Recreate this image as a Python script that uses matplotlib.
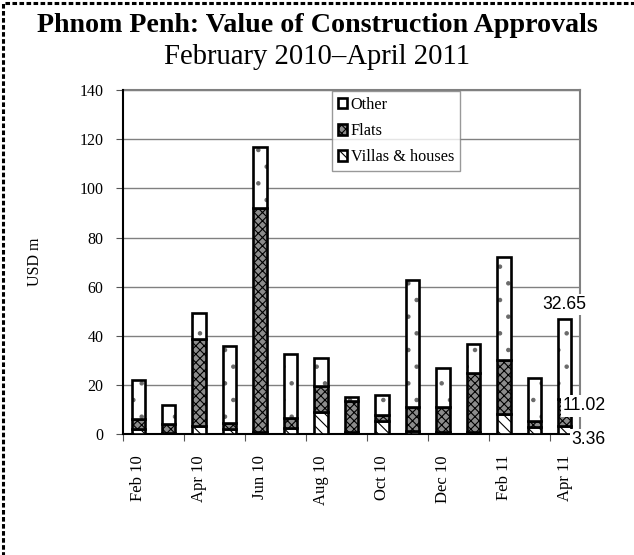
import matplotlib
matplotlib.use("Agg")
import matplotlib.pyplot as plt
from matplotlib.patches import Rectangle
import numpy as np

months = ["Feb 10", "Mar 10", "Apr 10", "May 10", "Jun 10", "Jul 10", "Aug 10",
          "Sep 10", "Oct 10", "Nov 10", "Dec 10", "Jan 11", "Feb 11", "Mar 11", "Apr 11"]
villas = [2.0, 0.6, 3.5, 2.0, 0.8, 2.5, 9.2, 1.0, 5.5, 1.2, 1.0, 1.0, 8.2, 2.8, 3.36]
flats = [4.1, 3.5, 35.3, 2.5, 91.2, 4.2, 10.4, 12.6, 2.4, 10.1, 10.3, 23.8, 22.0, 2.8, 11.02]
other = [15.9, 7.8, 10.5, 31.5, 25.0, 25.8, 11.3, 1.4, 8.1, 51.5, 15.8, 11.8, 42.0, 17.4, 32.65]
yticks = [0, 20, 40, 60, 80, 100, 120, 140]

serif = "Liberation Serif"
sans = "Liberation Sans"
plt.rcParams["hatch.linewidth"] = 0.8

fig = plt.figure(figsize=(6.34, 5.55), dpi=100)
ax = fig.add_axes([123/634, 1-434.3/555, 457/634, 344.3/555])

x = np.arange(len(months))
w = 0.44
v = np.array(villas); f = np.array(flats); o = np.array(other)
kw = dict(width=w, edgecolor="black", linewidth=1.9, zorder=3)
b1 = ax.bar(x, v, facecolor="white", hatch="\\\\\\", label="Villas & houses", **kw)
b2 = ax.bar(x, f, bottom=v, facecolor="#8c8c8c", hatch="xxxx", label="Flats", **kw)
# Other: light dotted fill, then black outline
ax.bar(x, o, bottom=v+f, width=w, facecolor="white", hatch=".", edgecolor="#6a6a6a",
       linewidth=0, zorder=3)
b3 = ax.bar(x, o, bottom=v+f, width=w, fill=False, edgecolor="black", linewidth=1.9,
            zorder=3.5, label="Other")

ax.set_xlim(-0.5, len(months)-0.5)
ax.set_ylim(0, 140)
ax.set_yticks(yticks)
ax.set_yticklabels([str(t) for t in yticks], fontfamily=serif, fontsize=11.5)
ax.tick_params(axis="y", length=5, width=0.8, color="#555555", pad=9)
ax.grid(axis="y", color="#808080", linewidth=1.0, zorder=0)

ax.set_xticks(x[::2])
ax.set_xticklabels(months[::2], rotation=90, fontfamily=serif, fontsize=12)
ax.set_xticks(np.arange(-0.5, len(months)-0.5, 2), minor=True)
ax.tick_params(axis="x", which="major", length=0, pad=15)
ax.tick_params(axis="x", which="minor", length=5, width=0.8, color="#555555")

for s in ["top", "right"]:
    ax.spines[s].set_color("#808080")
    ax.spines[s].set_linewidth(1.5)
for s in ["left", "bottom"]:
    ax.spines[s].set_color("black")
    ax.spines[s].set_linewidth(1.5)
ax.spines["left"].set_zorder(5)

ax.set_ylabel("USD m", fontfamily=serif, fontsize=11.5, labelpad=26)

leg = ax.legend(handles=[b3, b2, b1], loc="upper left", bbox_to_anchor=(0.457, 0.996),
                prop={"family": serif, "size": 11.7}, frameon=True, fancybox=False,
                edgecolor="#808080", handlelength=0.6, handleheight=0.6,
                handletextpad=0.2, labelspacing=0.62, borderpad=0.35, borderaxespad=0)
leg.get_frame().set_linewidth(1.0)
leg.set_zorder(10)
leg.legend_handles[0].set_facecolor("white")
leg.legend_handles[0].set_fill(True)

# data labels for the last bar
last = len(months) - 1
bbox = dict(facecolor="white", edgecolor="none", pad=1.5)
ax.annotate(f"{other[last]:.2f}", (x[last], villas[last]+flats[last]+other[last]),
            xytext=(0, 4), textcoords="offset points", ha="center", va="bottom",
            fontfamily=sans, fontsize=12.7, bbox=bbox, zorder=12, annotation_clip=False)
ax.annotate(f"{flats[last]:.2f}", (x[last], villas[last]+flats[last]/2),
            xytext=(-1.5, 4.7), textcoords="offset points", ha="left", va="center",
            fontfamily=sans, fontsize=12.7, bbox=bbox, zorder=12, annotation_clip=False)
ax.annotate(f"{villas[last]:.2f}", (x[last], villas[last]/2),
            xytext=(5, -6.5), textcoords="offset points", ha="left", va="center",
            fontfamily=sans, fontsize=12.7, bbox=bbox, zorder=12, annotation_clip=False)

fig.text(0.5, 1-26/555, "Phnom Penh: Value of Construction Approvals", ha="center", va="center",
         fontfamily=serif, fontsize=20.2, fontweight="bold")
fig.text(0.5, 1-57/555, "February 2010\u2013April 2011", ha="center", va="center",
         fontfamily=serif, fontsize=20.6)

fig.patches.append(Rectangle((3/634, -0.1), 1.2, 1-3/555+0.1, transform=fig.transFigure,
                             fill=False, edgecolor="black", linewidth=2.2,
                             linestyle=(0, (1.5, 0.8)), figure=fig))

fig.savefig("out.png", dpi=100)
